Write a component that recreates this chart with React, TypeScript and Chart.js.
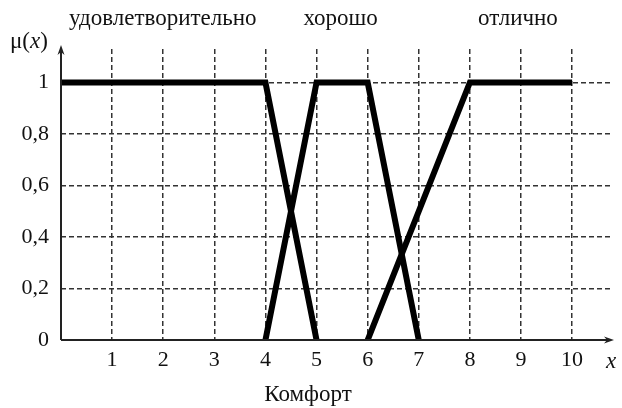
import React, { useEffect, useRef } from "react";
import { Chart, registerables } from "chart.js";

Chart.register(...registerables);

const termNames = ["удовлетворительно", "хорошо", "отлично"];
const termLabelX = [1.99, 5.47, 8.94];
const satisfactoryX = [0, 4, 5];
const satisfactoryY = [1, 1, 0];
const goodX = [4, 5, 6, 7];
const goodY = [0, 1, 1, 0];
const excellentX = [6, 8, 10];
const excellentY = [0, 1, 1];
const xTicks = [1, 2, 3, 4, 5, 6, 7, 8, 9, 10];
const yTicks = [0, 0.2, 0.4, 0.6, 0.8, 1];
const xTitle = "Комфорт";
const xAxisName = "x";

const FONT = "'Liberation Serif', 'DejaVu Serif', serif";
const TICK_SIZE = 22;
const LABEL_SIZE = 23;

const pts = (xs: number[], ys: number[]) => xs.map((x, i) => ({ x, y: ys[i] }));

const isOn = (v: number, list: number[]) => list.some((t) => Math.abs(t - v) < 1e-6);

const extras = {
  id: "extras",
  afterDraw(chart: any) {
    const { ctx, chartArea, scales } = chart;
    const xs = scales.x;
    const ys = scales.y;
    const x0 = xs.getPixelForValue(0);
    const y0 = ys.getPixelForValue(0);
    ctx.save();
    ctx.strokeStyle = "#222";
    ctx.fillStyle = "#222";
    ctx.lineWidth = 2;
    ctx.setLineDash([]);
    // x axis
    const xEnd = chartArea.right;
    ctx.beginPath();
    ctx.moveTo(x0, y0);
    ctx.lineTo(xEnd - 2, y0);
    ctx.stroke();
    ctx.beginPath();
    ctx.moveTo(xEnd + 1, y0);
    ctx.lineTo(xEnd - 9, y0 - 3.5);
    ctx.lineTo(xEnd - 6, y0);
    ctx.lineTo(xEnd - 9, y0 + 3.5);
    ctx.closePath();
    ctx.fill();
    // y axis
    const yEnd = chartArea.top - 3;
    ctx.beginPath();
    ctx.moveTo(x0, y0);
    ctx.lineTo(x0, yEnd + 2);
    ctx.stroke();
    ctx.beginPath();
    ctx.moveTo(x0, yEnd - 1);
    ctx.lineTo(x0 - 3.5, yEnd + 9);
    ctx.lineTo(x0, yEnd + 6);
    ctx.lineTo(x0 + 3.5, yEnd + 9);
    ctx.closePath();
    ctx.fill();

    ctx.fillStyle = "#111";
    ctx.textBaseline = "middle";
    ctx.font = `${LABEL_SIZE}px ${FONT}`;
    ctx.textAlign = "center";
    termNames.forEach((n, i) => {
      ctx.fillText(n, xs.getPixelForValue(termLabelX[i]), 19);
    });
    // axis title
    ctx.fillText(xTitle, 308, 395);
    // x label
    ctx.font = `italic ${LABEL_SIZE}px ${FONT}`;
    ctx.textAlign = "left";
    ctx.fillText(xAxisName, 606, 362);
    // mu(x)
    ctx.font = `${LABEL_SIZE}px ${FONT}`;
    let px = 10;
    const py = 42;
    ctx.fillText("μ(", px, py);
    px += ctx.measureText("μ(").width;
    ctx.font = `italic ${LABEL_SIZE}px ${FONT}`;
    ctx.fillText("x", px, py);
    px += ctx.measureText("x").width;
    ctx.font = `${LABEL_SIZE}px ${FONT}`;
    ctx.fillText(")", px, py);
    ctx.restore();
  },
};

export default function App() {
  const ref = useRef<HTMLCanvasElement | null>(null);
  useEffect(() => {
    if (!ref.current) return;
    const lineStyle = {
      borderColor: "#000",
      borderWidth: 6,
      pointRadius: 0,
      fill: false,
      tension: 0,
      borderJoinStyle: "miter" as const,
      showLine: true,
    };
    const chart = new Chart(ref.current, {
      type: "scatter",
      data: {
        datasets: [
          { label: termNames[0], data: pts(satisfactoryX, satisfactoryY), ...lineStyle },
          { label: termNames[1], data: pts(goodX, goodY), ...lineStyle },
          { label: termNames[2], data: pts(excellentX, excellentY), ...lineStyle },
        ],
      },
      options: {
        animation: false,
        responsive: true,
        maintainAspectRatio: false,
        layout: { padding: { top: 49, right: 9, left: 0, bottom: 0 } },
        plugins: { legend: { display: false }, tooltip: { enabled: false } },
        scales: {
          x: {
            type: "linear",
            min: 0,
            max: 10.8,
            afterFit: (s: any) => {
              s.height = 68;
            },
            afterBuildTicks: (s: any) => {
              s.ticks = [0, ...xTicks].map((v) => ({ value: v }));
            },
            ticks: {
              color: "#111",
              font: { family: FONT, size: TICK_SIZE },
              padding: 7,
              maxRotation: 0,
              autoSkip: false,
              callback: (v: any) => (isOn(Number(v), xTicks) ? String(v) : ""),
            },
            grid: {
              drawTicks: false,
              color: (c: any) => (c.tick && isOn(c.tick.value, xTicks) ? "#333" : "rgba(0,0,0,0)"),
              lineWidth: 1.5,
            },
            border: { display: false, dash: [5, 3] },
          },
          y: {
            type: "linear",
            min: 0,
            max: 1.13,
            afterFit: (s: any) => {
              s.width = 61;
            },
            afterBuildTicks: (s: any) => {
              s.ticks = yTicks.map((v) => ({ value: v }));
            },
            ticks: {
              color: "#111",
              font: { family: FONT, size: TICK_SIZE },
              padding: 12,
              callback: (v: any) => String(Math.round(Number(v) * 10) / 10).replace(".", ","),
            },
            grid: {
              drawTicks: false,
              color: (c: any) => (c.tick && c.tick.value > 0.01 ? "#333" : "rgba(0,0,0,0)"),
              lineWidth: 1.5,
            },
            border: { display: false, dash: [5, 3] },
          },
        },
      },
      plugins: [extras],
    });
    return () => chart.destroy();
  }, []);
  return (
    <div style={{ position: "absolute", left: 0, top: 0, width: 622, height: 408, background: "#fff" }}>
      <canvas ref={ref} />
    </div>
  );
}
